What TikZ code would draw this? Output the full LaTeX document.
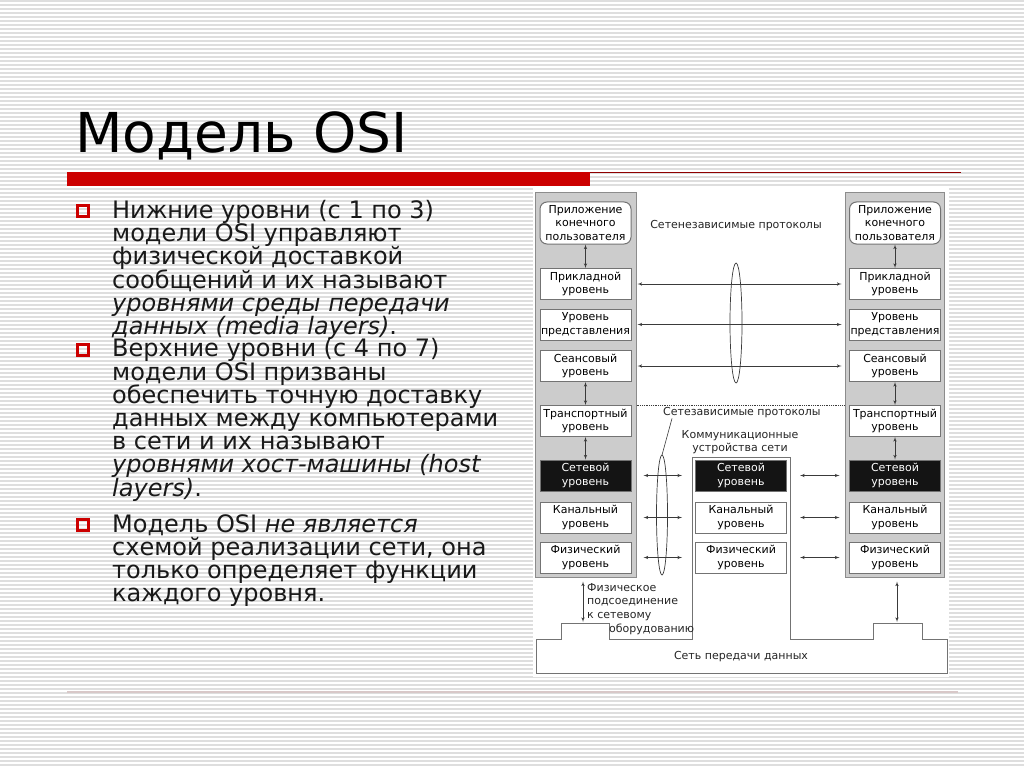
\documentclass[tikz,border=0pt]{standalone}
\usepackage{fontspec}
\setmainfont{DejaVu Sans}
\newfontfamily\titlefont{DejaVu Sans}
\usetikzlibrary{shapes,arrows}
\definecolor{slidered}{HTML}{CC0000}
\definecolor{rulegray}{HTML}{D8C8C8}
\definecolor{inkgray}{HTML}{3A3A3A}
\newcommand\slidebodyfont{\fontsize{24}{23.2}\selectfont\lineskiplimit-30pt\relax}

\begin{document}
\begin{tikzpicture}[x=1pt,y=-1pt]
  \tikzstyle{stripe} = [black!13, line width=1.4pt]
  \tikzstyle{layer} = [rectangle, draw=black!55, fill=white, line width=1pt, minimum width=91pt, minimum height=31pt, inner sep=0pt, align=center, font=\fontsize{11}{13.5}\selectfont]
  \tikzstyle{netlayer} = [layer, fill=black!92, text=white]
  \tikzstyle{panel} = [rectangle, draw=black!45, fill=black!20, line width=1pt, minimum width=101pt, minimum height=384pt, inner sep=0pt]
  \tikzstyle{link} = [<->, >=latex', draw=inkgray, line width=0.6pt]
  \tikzstyle{lbl} = [inner sep=0pt, text=black!85, font=\fontsize{11}{13.5}\selectfont]
  \tikzstyle{bullet} = [rectangle, draw=slidered, line width=2.2pt, minimum size=11pt, inner sep=0pt]
  \tikzstyle{body} = [anchor=north west, align=left, inner sep=0pt, text=black!90, font=\slidebodyfont]

  \useasboundingbox (0,0) rectangle (1024,767);
  \fill[white] (0,0) rectangle (1024,767);
  \foreach \y in {1,5,...,767}
    \draw[stripe] (0,\y) -- (1024,\y);

  % title and rules
  \node (title) [anchor=base west, inner sep=0pt, font=\titlefont\fontsize{55}{60}\selectfont] at (75,153) {Модель OSI};
  \fill[slidered] (67,172) rectangle (590,186);
  \draw[slidered!70!black, line width=1pt] (590,173) -- (961,173);
  \draw[rulegray, line width=2pt] (67,692) -- (958,692);

  % bullets
  \node (b1) [bullet] at (83,211) {};
  \node (t1) [body] at (112,200) {Нижние уровни (с 1 по 3)\\модели OSI управляют\\физической доставкой\\сообщений и их называют\\\textit{уровнями среды передачи}\\\textit{данных (media layers)}.};
  \node (b2) [bullet] at (83,350) {};
  \node (t2) [body] at (112,338.5) {Верхние уровни (с 4 по 7)\\модели OSI призваны\\обеспечить точную доставку\\данных между компьютерами\\в сети и их называют\\\textit{уровнями хост-машины (host}\\\textit{layers)}.};
  \node (b3) [bullet] at (83,525) {};
  \node (t3) [body] at (112,514) {Модель OSI \textit{не является}\\схемой реализации сети, она\\только определяет функции\\каждого уровня.};

  % diagram
  \fill[white] (533,188) rectangle (949,677);
  \node (lpanel) [panel] at (585.5,385) {};
  \node (rpanel) [panel, minimum width=99pt] at (894.5,385) {};

  \node (lapp) [layer, rounded corners=7pt, minimum height=42pt] at (585.5,223) {Приложение\\конечного\\пользователя};
  \node (l7) [layer] at (585.5,284) {Прикладной\\уровень};
  \node (l6) [layer] at (585.5,324.5) {Уровень\\представления};
  \node (l5) [layer] at (585.5,366) {Сеансовый\\уровень};
  \node (l4) [layer] at (585.5,421) {Транспортный\\уровень};
  \node (l3) [netlayer] at (585.5,475.5) {Сетевой\\уровень};
  \node (l2) [layer] at (585.5,517.5) {Канальный\\уровень};
  \node (l1) [layer] at (585.5,557.5) {Физический\\уровень};

  \node (rapp) [layer, rounded corners=7pt, minimum height=42pt] at (895,223) {Приложение\\конечного\\пользователя};
  \node (r7) [layer] at (895,284) {Прикладной\\уровень};
  \node (r6) [layer] at (895,324.5) {Уровень\\представления};
  \node (r5) [layer] at (895,366) {Сеансовый\\уровень};
  \node (r4) [layer] at (895,421) {Транспортный\\уровень};
  \node (r3) [netlayer] at (895,475.5) {Сетевой\\уровень};
  \node (r2) [layer] at (895,517.5) {Канальный\\уровень};
  \node (r1) [layer] at (895,557.5) {Физический\\уровень};

  % network and communication device outline
  \draw[black!55, line width=1pt] (536,673) -- (536,639) -- (561,639) -- (561,623) -- (609,623) -- (609,639)
    -- (692,639) -- (692,457) -- (790,457) -- (790,639) -- (873,639) -- (873,623) -- (922,623) -- (922,639)
    -- (947,639) -- (947,673) -- cycle;
  \coordinate (commw) at (692,475);
  \coordinate (comme) at (790,475);
  \node (m3) [netlayer] at (741,475.5) {Сетевой\\уровень};
  \node (m2) [layer] at (741,517.5) {Канальный\\уровень};
  \node (m1) [layer] at (741,557.5) {Физический\\уровень};
  \node (net) [lbl] at (741,657) {Сеть передачи данных};

  % labels
  \node (indep) [lbl] at (736,226) {Сетенезависимые протоколы};
  \node (dep) [lbl, anchor=west] at (663,413) {Сетезависимые протоколы};
  \node (comm) [lbl, align=center, font=\fontsize{11}{13}\selectfont] at (740,442) {Коммуникационные\\устройства сети};
  \node (phys) [lbl, anchor=north west, align=left, font=\fontsize{11}{13.7}\selectfont] at (587,583) {Физическое\\подсоединение\\к сетевому\\\hspace*{22pt}оборудованию};

  % lenses
  \coordinate (lens1) at (736,323);
  \coordinate (lens2) at (662,515);
  \draw[inkgray, line width=0.7pt] (lens1) ellipse [x radius=6, y radius=60];
  \draw[inkgray, line width=0.7pt] (lens2) ellipse [x radius=5.5, y radius=60];
  \draw[inkgray, line width=0.6pt] ([xshift=9pt]dep.south west) -- ([yshift=60pt]lens2);

  % connectors
  \draw[link] (lapp) -- (l7);
  \draw[link] (l5) -- (l4);
  \draw[link] (l4) -- (l3);
  \draw[link] (rapp) -- (r7);
  \draw[link] (r5) -- (r4);
  \draw[link] (r4) -- (r3);
  \draw[link, shorten <=1pt, shorten >=3pt] (l7.east -| lpanel.east) -- (r7.west -| rpanel.west);
  \draw[link, shorten <=1pt, shorten >=3pt] (l6.east -| lpanel.east) -- (r6.west -| rpanel.west);
  \draw[link, shorten <=1pt, shorten >=3pt] (l5.east -| lpanel.east) -- (r5.west -| rpanel.west);
  \draw[densely dotted, inkgray, line width=0.8pt] (l4.north -| lpanel.east) -- (r4.north -| rpanel.west);
  \draw[link, shorten <=7pt, shorten >=10pt] (l3.east -| lpanel.east) -- (m3 -| commw);
  \draw[link, shorten <=7pt, shorten >=10pt] (l2.east -| lpanel.east) -- (m2 -| commw);
  \draw[link, shorten <=7pt, shorten >=10pt] (l1.east -| lpanel.east) -- (m1 -| commw);
  \draw[link, shorten <=10pt, shorten >=5pt] (m3 -| comme) -- (r3.west -| rpanel.west);
  \draw[link, shorten <=10pt, shorten >=5pt] (m2 -| comme) -- (r2.west -| rpanel.west);
  \draw[link, shorten <=10pt, shorten >=5pt] (m1 -| comme) -- (r1.west -| rpanel.west);
  \coordinate (lstep) at (583,623);
  \coordinate (rstep) at (897,623);
  \draw[link, shorten <=4pt, shorten >=1pt] (lpanel.south -| lstep) -- (lstep);
  \draw[link, shorten <=4pt, shorten >=1pt] (rpanel.south -| rstep) -- (rstep);
\end{tikzpicture}
\end{document}
